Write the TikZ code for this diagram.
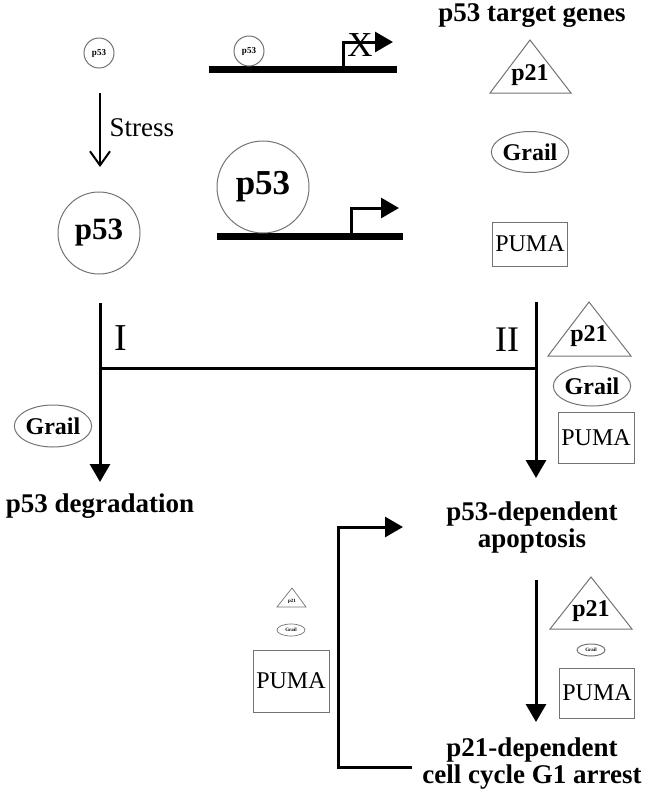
\documentclass[tikz,border=0pt]{standalone}
\usepackage{fontspec}
\setmainfont{Liberation Serif}
\usetikzlibrary{arrows.meta}
\usetikzlibrary{shapes.geometric}

\begin{document}
\begin{tikzpicture}[x=1pt,y=-1pt,>={Triangle[width=20pt,length=18pt]},
    gene/.style={draw=black!55,line width=1pt,inner sep=0pt},
    lbl/.style={font=\fontsize{24}{26}\selectfont\bfseries},
    tiny/.style={font=\fontsize{5}{5}\selectfont\bfseries},
    bigtxt/.style={font=\fontsize{27}{27}\selectfont\bfseries,align=center},
    flow/.style={line width=3pt},
    dna/.style={line width=7pt}]
                        \useasboundingbox (0,0) rectangle (650,796);
                        \node[gene,circle,minimum size=30pt,font=\fontsize{9}{9}\selectfont\bfseries] (p53s) at (99,53) {p53};
                        \coordinate (stressA) at (100,93);
                        \coordinate (stressB) at (100,167);
                        \draw[line width=2pt,-{Straight Barb[width=20pt,length=14pt]}] (stressA) -- (stressB);
                        \node[font=\fontsize{27}{27}\selectfont,anchor=west] (stress) at (106,128) {Stress};
                        \node[gene,circle,minimum size=82pt,font=\fontsize{31}{31}\selectfont\bfseries] (p53l) at (99,233) {p53};
                        \coordinate (dnaA) at (209,69);
                        \coordinate (dnaB) at (397,69);
                        \draw[dna] (dnaA) -- (dnaB);
                        \node[gene,circle,minimum size=30pt,font=\fontsize{9}{9}\selectfont\bfseries] (p53d) at (249,51) {p53};
                        \coordinate (promA) at (343,69);
                        \draw[flow,->] (promA) |- (393,42);
                        \node[font=\fontsize{35}{35}\selectfont] (cross) at (360,45) {X};
                        \coordinate (dnaC) at (217,236);
                        \coordinate (dnaD) at (403,236);
                        \draw[dna] (dnaC) -- (dnaD);
                        \node[gene,circle,minimum size=92pt,font=\fontsize{35}{35}\selectfont\bfseries] (p53b) at (263,187) {p53};
                        \coordinate (promB) at (351,236);
                        \draw[flow,->] (promB) |- (399,208);
                        \node[bigtxt] (target) at (532,16) {p53 target genes};
                        \draw[gene] (530,40) -- (571,93) -- (490,93) -- cycle;
                        \node[lbl] (p21a) at (530,75) {p21};
                        \node[gene,ellipse,minimum width=73pt,minimum height=41pt,lbl] (grailA) at (530,152) {Grail};
                        \node[gene,rectangle,minimum width=75pt,minimum height=44pt,font=\fontsize{24}{26}\selectfont] (pumaA) at (530,244) {PUMA};
                        \coordinate (brI) at (100,303);
                        \coordinate (brJ) at (100,368);
                        \coordinate (brII) at (536,302);
                        \coordinate (brK) at (536,368);
                        \node[bigtxt,anchor=base] (deg) at (100,512) {p53 degradation};
                        \coordinate (degT) at (100,482);
                        \draw[flow,->] (brI) -- (degT);
                        \draw[flow] (brJ) -- (brK);
                        \node[font=\fontsize{38}{38}\selectfont] (labI) at (121,338) {I};
                        \node[font=\fontsize{36}{36}\selectfont] (labII) at (507,340) {II};
                        \node[gene,ellipse,minimum width=73pt,minimum height=42pt,lbl] (grailL) at (53,426) {Grail};
                        \node[bigtxt] (apo) at (532,527) {p53-dependent\\apoptosis};
                        \coordinate (apoT) at (536,478);
                        \draw[flow,->] (brII) -- (apoT);
                        \draw[gene] (589,302) -- (631,356) -- (548,356) -- cycle;
                        \node[lbl] (p21b) at (589,336) {p21};
                        \node[gene,ellipse,minimum width=72pt,minimum height=40pt,lbl] (grailB) at (592,386) {Grail};
                        \node[gene,rectangle,minimum width=76pt,minimum height=51pt,font=\fontsize{24}{26}\selectfont] (pumaB) at (596,438) {PUMA};
                        \node[bigtxt] (arrest) at (532,764) {p21-dependent\\cell cycle G1 arrest};
                        \coordinate (arrA) at (536,580);
                        \coordinate (arrB) at (536,722);
                        \draw[flow,->] (arrA) -- (arrB);
                        \draw[gene] (591,577) -- (632,629) -- (550,629) -- cycle;
                        \node[lbl] (p21c) at (591,611) {p21};
                        \node[gene,ellipse,minimum width=28pt,minimum height=12pt,tiny] (grailC) at (591,650) {Grail};
                        \node[gene,rectangle,minimum width=75pt,minimum height=50pt,font=\fontsize{24}{26}\selectfont] (pumaC) at (597,693) {PUMA};
                        \coordinate (loopA) at (412,767);
                        \coordinate (loopB) at (403,527);
                        \draw[flow,->] (loopA) -- (338,767) |- (loopB);
                        \draw[gene,line width=0.7pt] (292,588) -- (306,607) -- (277,607) -- cycle;
                        \node[tiny] (p21d) at (292,601) {p21};
                        \node[gene,ellipse,minimum width=28pt,minimum height=12pt,line width=0.7pt,tiny] (grailD) at (291,630) {Grail};
                        \node[gene,rectangle,minimum width=76pt,minimum height=62pt,font=\fontsize{24}{26}\selectfont] (pumaD) at (291,681) {PUMA};
                    \end{tikzpicture}
\end{document}
